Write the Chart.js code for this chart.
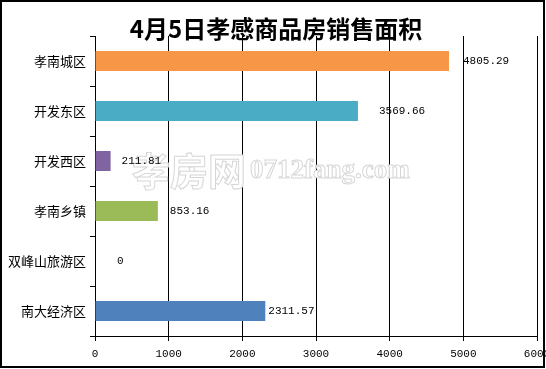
<!DOCTYPE html>
<html lang="zh">
<head>
<meta charset="UTF-8">
<title>4月5日孝感商品房销售面积</title>
<script src="https://cdn.jsdelivr.net/npm/chart.js"></script>
<style>
  html, body { margin: 0; padding: 0; background: #fff; }
  canvas { display: block; }
</style>
</head>
<body>
<canvas id="chart" width="546" height="369"></canvas>
<script>
const chartTitle = '4月5日孝感商品房销售面积';
const districts = ['孝南城区', '开发东区', '开发西区', '孝南乡镇', '双峰山旅游区', '南大经济区'];
const areas = [4805.29, 3569.66, 211.81, 853.16, 0, 2311.57];
const areaLabels = ['4805.29', '3569.66', '211.81', '853.16', '0', '2311.57'];
const xTicks = [0, 1000, 2000, 3000, 4000, 5000, 6000];

// Excel 2007 palette, one colour per bar
const barColors = ['#f79646', '#4bacc6', '#8064a2', '#9bbb59', '#c0504d', '#4f81bd'];
// how far each value label sits right of its bar end (px)
const labelGap = [14, 21, 11, 12, 22, 3];

const monoFont = '"Liberation Mono", monospace';
const cjkFont = '"Noto Sans CJK SC", sans-serif';

// title + outer frame
const framePlugin = {
  id: 'frame',
  afterDraw(chart) {
    const ctx = chart.ctx;
    ctx.save();
    ctx.fillStyle = '#000';
    ctx.font = 'bold 24px ' + cjkFont;
    ctx.textAlign = 'center';
    ctx.textBaseline = 'middle';
    ctx.fillText(chartTitle, 276, 29);
    ctx.strokeStyle = '#000';
    ctx.lineWidth = 2;
    ctx.strokeRect(1, 1, chart.width - 3, chart.height - 3);
    ctx.restore();
  }
};

// site watermark, sits over the grid but under the bars
const watermarkPlugin = {
  id: 'watermark',
  beforeDatasetsDraw(chart) {
    const ctx = chart.ctx;
    ctx.save();
    ctx.fillStyle = '#fff';
    ctx.strokeStyle = '#d6d6d6';
    ctx.lineWidth = 1;
    ctx.textBaseline = 'alphabetic';
    ctx.textAlign = 'left';
    ctx.font = 'bold 38px ' + cjkFont;
    ctx.fillText('孝房网', 132, 185);
    ctx.strokeText('孝房网', 132, 185);
    ctx.font = 'bold 27px "Liberation Serif", serif';
    ctx.fillText('0712fang.com', 250, 178);
    ctx.strokeText('0712fang.com', 250, 178);
    ctx.restore();
  }
};

const valueLabelPlugin = {
  id: 'valueLabels',
  afterDatasetsDraw(chart) {
    const ctx = chart.ctx;
    const meta = chart.getDatasetMeta(0);
    ctx.save();
    ctx.fillStyle = '#000';
    ctx.font = '11px ' + monoFont;
    ctx.textAlign = 'left';
    ctx.textBaseline = 'middle';
    meta.data.forEach((bar, i) => {
      ctx.fillText(areaLabels[i], bar.x + labelGap[i], bar.y);
    });
    ctx.restore();
  }
};

new Chart(document.getElementById('chart'), {
  type: 'bar',
  data: {
    labels: districts,
    datasets: [{
      data: areas,
      backgroundColor: barColors,
      borderWidth: 0,
      barPercentage: 0.4,
      categoryPercentage: 1.0
    }]
  },
  options: {
    indexAxis: 'y',
    responsive: false,
    devicePixelRatio: 1,
    animation: false,
    layout: { padding: { top: 36, right: 9, bottom: 0, left: 0 } },
    plugins: {
      legend: { display: false },
      title: { display: false },
      tooltip: { enabled: false }
    },
    scales: {
      x: {
        min: 0,
        max: 6000,
        afterBuildTicks(s) { s.ticks = xTicks.map(v => ({ value: v })); },
        afterFit(s) { s.height = 33; s.paddingLeft = 0; s.paddingRight = 0; },
        grid: { color: '#000', lineWidth: 1, tickLength: 5, drawTicks: true },
        border: { color: '#000', width: 1 },
        ticks: {
          color: '#000',
          padding: 6,
          maxRotation: 0,
          autoSkip: false,
          callback: v => String(v),
          font: { family: monoFont, size: 11 }
        }
      },
      y: {
        afterFit(s) { s.width = 95; s.paddingTop = 0; s.paddingBottom = 0; },
        grid: { drawOnChartArea: false, color: '#000', tickLength: 5, offset: true },
        border: { color: '#000', width: 1 },
        ticks: {
          color: '#000',
          padding: 4,
          font: { family: cjkFont, size: 13 }
        }
      }
    }
  },
  plugins: [framePlugin, watermarkPlugin, valueLabelPlugin]
});
</script>
</body>
</html>
